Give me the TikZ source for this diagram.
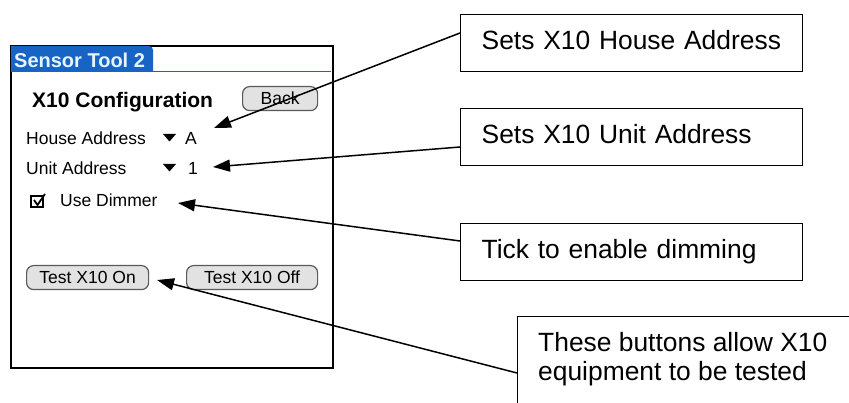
\documentclass[tikz,border=0pt]{standalone}
\usepackage{fontspec}
\setmainfont{Liberation Sans}
\usetikzlibrary{arrows.meta}
\definecolor{palmblue}{HTML}{1764C4}
\definecolor{palmtitle}{HTML}{E6F4FF}
\definecolor{btnfill}{HTML}{E2E2E2}
\definecolor{btnedge}{HTML}{5A5A5A}
\tikzset{
  callout/.style={draw, line width=1.3pt, anchor=north west, inner xsep=21pt,
    minimum width=342pt, minimum height=57pt, text width=300pt, align=left,
    text height=19pt, text depth=6pt,
    font=\fontsize{26.4}{29}\selectfont},
  pointer/.style={line width=1.5pt, -{Triangle[length=17pt,width=12pt]}},
  palmtext/.style={anchor=base west, inner sep=0pt, font=\fontsize{17.5}{20}\selectfont},
  palmbtn/.style={draw=btnedge, fill=btnfill, line width=1.2pt, rounded corners=7pt,
    anchor=north west, inner sep=0pt, font=\fontsize{17.5}{20}\selectfont}
}
\begin{document}
\begin{tikzpicture}[x=1pt,y=-1pt]
\clip (0,0) rectangle (849,403);
\fill[white] (0,0) rectangle (849,403);

% --- handheld screen ---
\node (scr) [draw, line width=1.6pt, anchor=north west, minimum width=322pt,
  minimum height=322pt, inner sep=0pt] at (10,45) {};
\fill[palmblue] (11,46) -- (149,46) to[out=0,in=90] (153,50) -- (153,72) -- (11,72) -- cycle;
\draw[palmblue, line width=1.5pt] (11,71.5) -- (331,71.5);
\node (title) [anchor=base west, inner sep=0pt, text=palmtitle,
  font=\fontsize{20}{22}\selectfont\bfseries] at (14,68) {Sensor Tool 2};

\node (cfg) [anchor=base west, inner sep=0pt, font=\fontsize{21}{24}\selectfont\bfseries]
  at (32,108) {X10 Configuration};
\node (back) [palmbtn, minimum width=75pt, minimum height=24pt] at (242,86) {Back};

\node (house) [palmtext] at (26,145) {House Address};
\fill (163,134) -- (176,134) -- (169.5,141.5) -- cycle;
\node (hval) [palmtext] at (185,145) {A};

\node (unit) [palmtext] at (26,175) {Unit Address};
\fill (163,164) -- (176,164) -- (169.5,171.5) -- cycle;
\node (uval) [palmtext] at (188,175) {1};

% check box with its tick
\draw[line width=1.5pt] (31,196) rectangle (43,207);
\draw[line width=1.8pt] (34,200) -- (37.5,205) -- (45,194);
\node (dim) [palmtext] at (60,207) {Use Dimmer};

\node (on) [palmbtn, minimum width=122pt, minimum height=24pt] at (26,265) {Test X10 On};
\node (off) [palmbtn, minimum width=131pt, minimum height=24pt] at (186,265) {Test X10 Off};

% --- callouts ---
\node (b1) [callout] at (460,14) {Sets X10 House Address};
\node (b2) [callout] at (460,108) {Sets X10 Unit Address};
\node (b3) [callout] at (460,223) {Tick to enable dimming};
\node (b4) [draw, line width=1.3pt, anchor=north west, minimum width=400pt,
  minimum height=120pt, inner sep=0pt] at (517,316) {};
\node (b4text) [anchor=base west, inner sep=0pt,
  font=\fontsize{26.4}{29}\selectfont] at (538,352) {These buttons allow X10};
\node (b4text2) [anchor=base west, inner sep=0pt,
  font=\fontsize{26.4}{29}\selectfont] at (538,381) {equipment to be tested};

% --- pointers ---
\coordinate (s1) at (460,33);   \coordinate (t1) at (214,128);
\coordinate (s2) at (460,147);  \coordinate (t2) at (213,167);
\coordinate (s3) at (460,241);  \coordinate (t3) at (178,203);
\coordinate (s4) at (517,373);  \coordinate (t4) at (157,280);
\draw[pointer] (s1) -- (t1);
\draw[pointer] (s2) -- (t2);
\draw[pointer] (s3) -- (t3);
\draw[pointer] (s4) -- (t4);
\end{tikzpicture}
\end{document}
